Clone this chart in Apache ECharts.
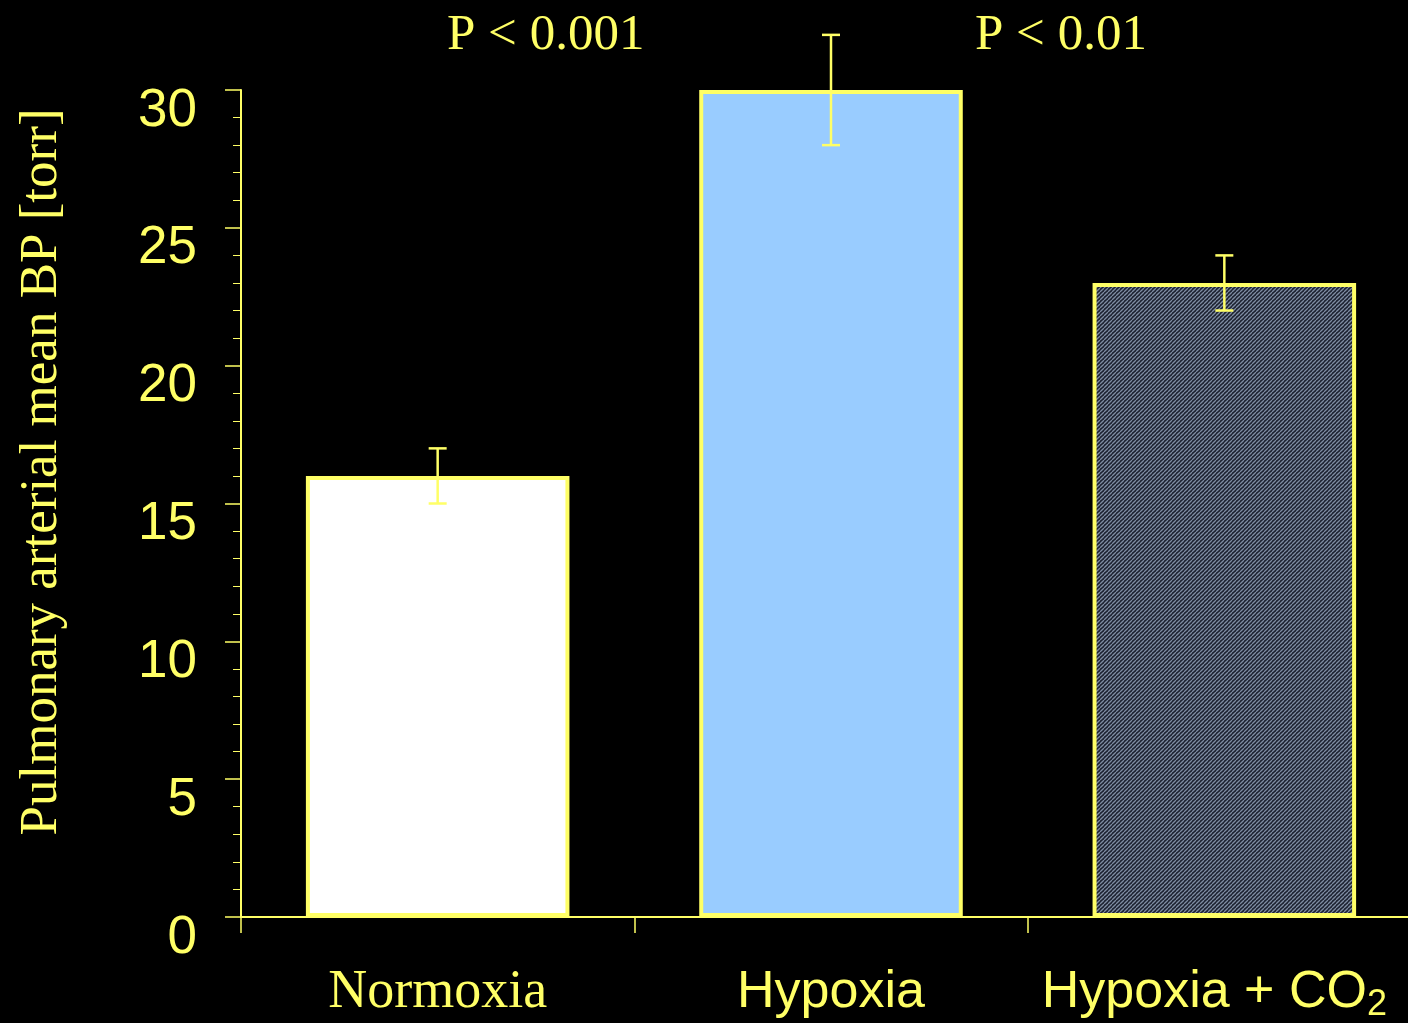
<!DOCTYPE html>
<html>
<head>
<meta charset="utf-8">
<script src="https://cdn.jsdelivr.net/npm/echarts@6/dist/echarts.min.js"></script>
<style>
html,body{margin:0;padding:0;background:#000;}
#chart{width:1408px;height:1023px;}
</style>
</head>
<body>
<div id="chart"></div>
<script>
const categories = ['Normoxia', 'Hypoxia', 'Hypoxia + CO2'];
const means = [16, 30, 23];
const errors = [1, 2, 1];
const yTicks = [0, 5, 10, 15, 20, 25, 30];
const pLabels = ['P < 0.001', 'P < 0.01'];
const yTitle = 'Pulmonary arterial mean BP [torr]';

const YEL = '#ffff66';
const SERIF = '"Liberation Serif","Times New Roman",serif';
const SANS = '"Liberation Sans",Arial,sans-serif';

// hatch pattern
const pc = document.createElement('canvas');
pc.width = 4; pc.height = 4;
const px = pc.getContext('2d');
px.fillStyle = '#1c2130';
px.fillRect(0, 0, 4, 4);
px.strokeStyle = '#7e8ca2';
px.lineWidth = 1.3;
for (let k = -4; k <= 8; k += 4) {
  px.beginPath();
  px.moveTo(k, 4);
  px.lineTo(k + 4, 0);
  px.stroke();
}

const fills = ['#ffffff', '#99ccff', {image: pc, repeat: 'repeat'}];

const chart = echarts.init(document.getElementById('chart'), null, {renderer: 'canvas'});

const option = {
  backgroundColor: '#000',
  animation: false,
  grid: {left: 241, top: 90, width: 1180, height: 827, containLabel: false, outerBoundsMode: 'none'},
  xAxis: {
    type: 'category',
    data: categories,
    axisLine: {show: true, lineStyle: {color: YEL, width: 2}},
    axisTick: {show: true, length: 16, lineStyle: {color: YEL, width: 1.5}},
    axisLabel: {
      margin: 46,
      color: YEL,
      formatter: function (v) {
        if (v === 'Normoxia') return '{serif|Normoxia}';
        if (v === 'Hypoxia') return '{sans|Hypoxia}';
        return '{sans|Hypoxia + CO}{sub|2}';
      },
      rich: {
        serif: {fontFamily: SERIF, fontSize: 54, color: YEL, lineHeight: 60},
        sans: {fontFamily: SANS, fontSize: 52, color: YEL, lineHeight: 60},
        sub: {fontFamily: SANS, fontSize: 36, color: YEL, lineHeight: 20, verticalAlign: 'bottom', padding: [0, 20, 0, 0]}
      }
    },
    splitLine: {show: false}
  },
  yAxis: {
    type: 'value',
    min: 0, max: 30, interval: 5,
    axisLine: {show: true, lineStyle: {color: YEL, width: 2}},
    axisTick: {show: true, length: 16, lineStyle: {color: YEL, width: 1.5}},
    minorTick: {show: true, splitNumber: 5, length: 8, lineStyle: {color: YEL, width: 1}},
    axisLabel: {
      color: YEL, fontFamily: SANS, fontSize: 53, margin: 44,
      verticalAlign: 'top', lineHeight: 42,
      formatter: function (v) { return yTicks.indexOf(v) >= 0 ? String(v) : ''; }
    },
    splitLine: {show: false}
  },
  graphic: [
    {type: 'text', left: 447, top: 10, style: {text: pLabels[0], fill: YEL, font: '51px ' + SERIF}},
    {type: 'text', left: 975, top: 10, style: {text: pLabels[1], fill: YEL, font: '51px ' + SERIF}},
    {type: 'text', x: 42, y: 472, rotation: Math.PI / 2,
     style: {text: yTitle, fill: YEL, font: '53px ' + SERIF, align: 'center', verticalAlign: 'middle'}}
  ],
  series: [
    {
      type: 'bar',
      barWidth: '67%',
      data: means.map(function (m, i) {
        return {value: m, itemStyle: {color: fills[i], borderColor: YEL, borderWidth: 4}};
      }),
      z: 2
    },
    {
      type: 'custom',
      z: 5,
      data: means.map(function (m, i) { return [i, m - errors[i], m + errors[i]]; }),
      renderItem: function (params, api) {
        const lo = api.coord([api.value(0), api.value(1)]);
        const hi = api.coord([api.value(0), api.value(2)]);
        const hw = 9;
        const st = {stroke: YEL, lineWidth: 2.5};
        return {
          type: 'group',
          children: [
            {type: 'line', shape: {x1: hi[0], y1: hi[1], x2: lo[0], y2: lo[1]}, style: st},
            {type: 'line', shape: {x1: hi[0] - hw, y1: hi[1], x2: hi[0] + hw, y2: hi[1]}, style: st},
            {type: 'line', shape: {x1: lo[0] - hw, y1: lo[1], x2: lo[0] + hw, y2: lo[1]}, style: st}
          ]
        };
      }
    }
  ]
};
chart.setOption(option);
</script>
</body>
</html>
